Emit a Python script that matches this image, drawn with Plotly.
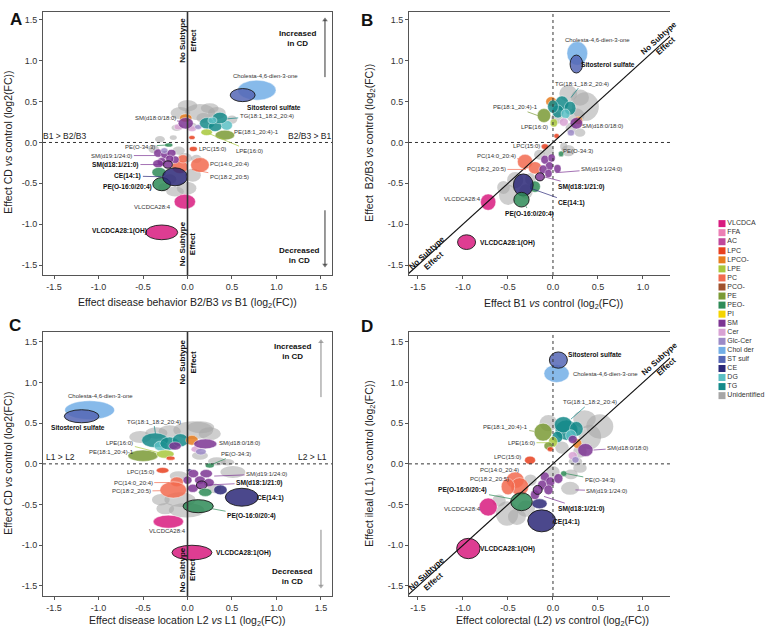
import plotly.graph_objects as go

# ---------------- categories / legend ----------------
CATS = ["VLCDCA", "FFA", "AC", "LPC", "LPCO-", "LPE", "PC", "PCO-", "PE", "PEO-", "PI", "SM",
        "Cer", "Glc-Cer", "Chol der", "ST sulf", "CE", "DG", "TG", "Unidentified"]
COLS = ["#d81b7f", "#ec7fb5", "#c0479b", "#e8401e", "#e87d1e", "#a8c83c", "#f26a4f", "#a0522d",
        "#7a9a35", "#2e8b57", "#f4d400", "#7d3593", "#d8a2d4", "#9b8ac7", "#72aee6", "#5566b5",
        "#2b2878", "#5bbfc4", "#148a8a", "#a6a6a6"]
CMAP = dict(zip(CATS, COLS))

TICK_VALS = [-1.5, -1.0, -0.5, 0.0, 0.5, 1.0, 1.5]
TICK_TEXT = [f"{v:.1f}" for v in TICK_VALS]

# ---------------- Panel A: CD vs control against B2/B3 vs B1 ----------------
A_cls = ["Unidentified"] * 20 + [
    "Chol der", "ST sulf", "LPCO-", "Cer", "Cer", "Glc-Cer", "SM", "TG", "DG", "TG", "TG", "DG",
    "PE", "LPE", "LPC", "LPC", "PEO-", "PC", "PC", "PC",
    "SM", "SM", "SM", "SM", "SM", "SM", "SM", "Glc-Cer", "SM",
    "PEO-", "PEO-", "CE", "VLCDCA", "VLCDCA"]
A_x = [0.14, -0.08, 0.33, 0.18, -0.12, -0.16, -0.31, 0.05, -0.03, 0.06, -0.01, -0.14, -0.10, 0.10, -0.27, 0.50,
       -0.38, 0.00, 0.25, -0.20,
       0.78, 0.62, -0.02, -0.10, 0.05, 0.12, -0.02, 0.22, 0.44, 0.31, 0.365, 0.28,
       0.42, 0.215, 0.05, 0.065, -0.21, -0.085, 0.14, -0.05,
       -0.33, -0.25, -0.18, -0.29, -0.14, -0.20, -0.33, -0.26, -0.22,
       -0.32, -0.29, -0.14, -0.03, -0.29]
A_y = [0.37, 0.36, 0.36, 0.30, 0.18, 0.06, 0.04, 0.20, -0.19, -0.40, -0.56, -0.60, -0.10, -0.20, -0.55, 0.28,
       -0.08, 0.45, 0.42, -0.45,
       0.64, 0.58, 0.30, 0.19, 0.17, 0.19, 0.235, 0.235, 0.21, 0.195, 0.30, 0.27,
       0.09, 0.125, 0.06, -0.08, -0.03, -0.30, -0.275, -0.20,
       -0.13, -0.15, -0.13, -0.235, -0.21, -0.20, -0.26, -0.10, -0.27,
       -0.365, -0.51, -0.42, -0.725, -1.10]
A_w = [0.34, 0.22, 0.20, 0.16, 0.12, 0.08, 0.11, 0.10, 0.16, 0.18, 0.22, 0.20, 0.14, 0.12, 0.12, 0.12,
       0.12, 0.22, 0.20, 0.15,
       0.43, 0.28, 0.14, 0.10, 0.10, 0.08, 0.17, 0.17, 0.13, 0.15, 0.17, 0.10,
       0.22, 0.13, 0.07, 0.09, 0.09, 0.18, 0.21, 0.12,
       0.10, 0.10, 0.10, 0.10, 0.09, 0.09, 0.12, 0.08, 0.10,
       0.16, 0.20, 0.28, 0.24, 0.36]
A_h = [0.20, 0.15, 0.15, 0.12, 0.08, 0.06, 0.08, 0.08, 0.12, 0.16, 0.16, 0.12, 0.10, 0.10, 0.10, 0.10,
       0.10, 0.14, 0.12, 0.12,
       0.245, 0.16, 0.10, 0.07, 0.07, 0.06, 0.14, 0.14, 0.12, 0.12, 0.14, 0.08,
       0.12, 0.08, 0.05, 0.06, 0.05, 0.16, 0.18, 0.10,
       0.10, 0.10, 0.09, 0.10, 0.09, 0.09, 0.10, 0.07, 0.09,
       0.12, 0.16, 0.22, 0.18, 0.18]
A_hl = [0] * 21 + [1] + [0] * 26 + [1, 0, 1, 1, 0, 1]

# ---------------- Panel B: B2/B3 vs control against B1 vs control ----------------
B_cls = ["Unidentified"] * 16 + [
    "Chol der", "ST sulf", "LPCO-", "TG", "TG", "TG", "DG", "TG", "PE", "LPE", "Cer", "LPCO-", "SM",
    "Glc-Cer", "LPC", "LPC", "PEO-", "PC", "PC",
    "SM", "SM", "SM", "SM", "SM", "SM", "SM",
    "PEO-", "CE", "PEO-", "VLCDCA", "VLCDCA"]
B_x = [0.36, 0.17, 0.25, 0.30, 0.17, 0.12, -0.50, -0.42, -0.55, -0.05, 0.20, -0.25, 0.05,
       -0.30, 0.30, -0.15,
       0.27, 0.26, -0.02, 0.10, 0.055, 0.19, 0.14, 0.00, -0.10, 0.01, 0.12, 0.28, 0.26,
       0.20, 0.04, -0.09, 0.09, -0.31, -0.20,
       -0.09, -0.015, -0.04, -0.11, 0.05, -0.05, -0.145,
       -0.20, -0.33, -0.35, -0.72, -0.96]
B_y = [0.44, 0.60, 0.33, 0.12, -0.10, -0.05, -0.64, -0.46, -0.55, -0.10, 0.18, -0.45, 0.30,
       -0.60, 0.55, -0.15,
       1.09, 0.96, 0.50, 0.48, 0.38, 0.42, 0.35, 0.44, 0.33, 0.24, 0.25, 0.27, 0.235,
       0.12, 0.08, -0.05, -0.14, -0.235, -0.31,
       -0.21, -0.19, -0.29, -0.33, -0.32, -0.38, -0.42,
       -0.54, -0.52, -0.70, -0.73, -1.22]
B_w = [0.30, 0.20, 0.20, 0.12, 0.15, 0.08, 0.20, 0.18, 0.14, 0.12, 0.12, 0.12, 0.14,
       0.15, 0.20, 0.12,
       0.23, 0.14, 0.12, 0.15, 0.13, 0.13, 0.10, 0.12, 0.15, 0.08, 0.10, 0.10, 0.14,
       0.08, 0.06, 0.08, 0.06, 0.17, 0.15,
       0.09, 0.08, 0.09, 0.09, 0.08, 0.08, 0.10,
       0.12, 0.22, 0.17, 0.17, 0.20]
B_h = [0.35, 0.20, 0.18, 0.10, 0.14, 0.10, 0.25, 0.20, 0.16, 0.15, 0.12, 0.15, 0.14,
       0.18, 0.20, 0.12,
       0.29, 0.22, 0.12, 0.18, 0.16, 0.17, 0.12, 0.16, 0.17, 0.10, 0.10, 0.10, 0.14,
       0.08, 0.06, 0.07, 0.07, 0.18, 0.15,
       0.11, 0.10, 0.11, 0.11, 0.10, 0.10, 0.10,
       0.14, 0.27, 0.18, 0.20, 0.18]
B_hl = [0] * 17 + [1] + [0] * 23 + [1, 0, 1, 1, 0, 1]

# ---------------- Panel C: CD vs control against L2 vs L1 ----------------
C_cls = ["Unidentified"] * 16 + [
    "Chol der", "ST sulf", "TG", "DG", "TG", "TG", "LPCO-", "Cer", "Glc-Cer", "SM", "SM",
    "PE", "LPE", "LPC", "LPC", "PEO-", "CE", "PC", "PC",
    "SM", "SM", "SM", "SM", "SM", "SM", "SM",
    "PEO-", "CE", "CE", "PEO-", "VLCDCA", "VLCDCA"]
C_x = [0.065, -0.53, 0.25, 0.14, 0.33, 0.51, -0.085, -0.01, -0.30, -0.10, -0.20, 0.30, 0.45,
       -0.35, 0.15, -0.25,
       -1.10, -1.19, -0.365, -0.30, -0.20, -0.08, 0.05, 0.10, 0.15, -0.14, 0.20,
       -0.50, -0.25, -0.19, -0.28, 0.25, 0.02, -0.12, -0.16,
       0.065, 0.21, 0.14, 0.24, 0.06, 0.00, 0.16,
       0.20, 0.37, 0.61, 0.12, -0.215, 0.05]
C_y = [0.415, 0.33, 0.37, 0.10, 0.03, -0.10, -0.44, -0.57, -0.44, -0.15, 0.40, -0.30, 0.02,
       0.38, 0.45, -0.55,
       0.66, 0.585, 0.29, 0.22, 0.25, 0.29, 0.29, 0.18, 0.15, 0.22, 0.245,
       0.10, 0.12, 0.07, -0.08, -0.02, -0.08, -0.22, -0.32,
       -0.12, -0.12, -0.20, -0.23, -0.30, -0.20, -0.26,
       -0.35, -0.32, -0.41, -0.52, -0.71, -1.09]
C_w = [0.45, 0.25, 0.25, 0.18, 0.20, 0.28, 0.35, 0.40, 0.20, 0.20, 0.25, 0.15, 0.15,
       0.25, 0.30, 0.20,
       0.56, 0.39, 0.30, 0.15, 0.22, 0.18, 0.14, 0.12, 0.12, 0.14, 0.26,
       0.34, 0.20, 0.10, 0.14, 0.10, 0.06, 0.15, 0.30,
       0.12, 0.14, 0.12, 0.12, 0.12, 0.10, 0.12,
       0.15, 0.15, 0.37, 0.34, 0.34, 0.45]
C_h = [0.22, 0.15, 0.16, 0.10, 0.10, 0.15, 0.18, 0.18, 0.14, 0.12, 0.15, 0.12, 0.08,
       0.14, 0.15, 0.14,
       0.23, 0.16, 0.18, 0.12, 0.16, 0.16, 0.12, 0.08, 0.08, 0.10, 0.12,
       0.14, 0.10, 0.05, 0.07, 0.06, 0.04, 0.12, 0.20,
       0.10, 0.10, 0.10, 0.10, 0.10, 0.10, 0.10,
       0.10, 0.12, 0.22, 0.16, 0.16, 0.18]
C_hl = [0] * 17 + [1] + [0] * 23 + [1, 0, 0, 1, 1, 0, 1]

# ---------------- Panel D: ileal (L1) vs control against colorectal (L2) vs control ----------------
D_cls = ["Unidentified"] * 16 + [
    "Chol der", "ST sulf", "TG", "TG", "TG", "DG", "TG", "PE", "LPE", "PE", "LPCO-", "Cer",
    "Glc-Cer", "SM", "SM", "LPC", "LPC", "PEO-", "PC", "PC", "PC",
    "SM", "SM", "SM", "SM", "SM", "SM", "SM",
    "CE", "PEO-", "CE", "VLCDCA", "VLCDCA"]
D_x = [0.52, 0.41, -0.05, 0.25, 0.19, 0.20, -0.51, -0.40, -0.60, 0.00, -0.25, 0.10, 0.30,
       0.35, -0.30, 0.30,
       0.04, 0.06, 0.15, 0.115, 0.26, 0.20, 0.05, -0.11, 0.00, -0.05, 0.27, 0.22,
       0.25, 0.22, 0.36, -0.03, -0.255, 0.12, -0.42, -0.37, -0.50,
       -0.09, -0.03, -0.12, -0.05, 0.06, -0.20, -0.17,
       -0.15, -0.35, -0.125, -0.72, -0.94]
D_y = [0.46, 0.33, 0.50, 0.03, -0.30, -0.13, -0.61, -0.65, -0.45, -0.10, -0.20, 0.20, 0.15,
       0.55, -0.55, -0.05,
       1.11, 1.275, 0.415, 0.48, 0.43, 0.35, 0.33, 0.39, 0.27, 0.22, 0.25, 0.10,
       0.05, 0.30, 0.17, 0.18, 0.045, -0.12, -0.20, -0.28, -0.28,
       -0.16, -0.22, -0.26, -0.32, -0.18, -0.38, -0.32,
       -0.49, -0.465, -0.70, -0.53, -1.04]
D_w = [0.30, 0.25, 0.20, 0.15, 0.20, 0.15, 0.25, 0.20, 0.15, 0.15, 0.14, 0.15, 0.15,
       0.25, 0.20, 0.15,
       0.28, 0.20, 0.25, 0.20, 0.15, 0.12, 0.12, 0.20, 0.10, 0.10, 0.10, 0.10,
       0.08, 0.10, 0.17, 0.07, 0.12, 0.07, 0.20, 0.20, 0.15,
       0.10, 0.10, 0.10, 0.10, 0.10, 0.10, 0.10,
       0.17, 0.24, 0.31, 0.20, 0.26]
D_h = [0.30, 0.30, 0.20, 0.10, 0.16, 0.12, 0.30, 0.20, 0.15, 0.15, 0.14, 0.15, 0.15,
       0.22, 0.20, 0.12,
       0.22, 0.20, 0.25, 0.20, 0.18, 0.14, 0.14, 0.22, 0.13, 0.10, 0.12, 0.10,
       0.08, 0.10, 0.16, 0.06, 0.10, 0.07, 0.20, 0.22, 0.20,
       0.12, 0.12, 0.12, 0.12, 0.12, 0.12, 0.11,
       0.12, 0.22, 0.27, 0.22, 0.25]
D_hl = [0] * 17 + [1] + [0] * 25 + [1, 0, 1, 1, 0, 1]

# ---------------- labelled metabolites ----------------
LABELS = ["Cholesta-4,6-dien-3-one", "Sitosterol sulfate", "TG(18:1_18:2_20:4)", "SM(d18:0/18:0)",
          "PE(18:1_20:4)-1", "LPE(16:0)", "LPC(15:0)", "PE(O-34:3)", "SM(d19:1/24:0)",
          "PC(14:0_20:4)", "PC(18:2_20:5)", "SM(d18:1/21:0)", "CE(14:1)", "PE(O-16:0/20:4)",
          "VLCDCA28:4", "VLCDCA28:1(OH)"]
LABEL_CLS = ["Chol der", "ST sulf", "TG", "SM", "PE", "LPE", "LPC", "PEO-", "SM", "PC", "PC",
             "SM", "CE", "PEO-", "VLCDCA", "VLCDCA"]
LABEL_BOLD = [0, 1, 0, 0, 0, 0, 0, 0, 0, 0, 0, 1, 1, 1, 0, 1]
N = None
A_lx = [0.88, 0.97, 0.89, -0.365, 0.77, 0.70, 0.28, -0.53, -0.85, 0.47, 0.47, -0.81, -0.67, -0.67, -0.39, -0.76]
A_ly = [0.81, 0.43, 0.33, 0.30, 0.125, -0.10, -0.08, -0.05, -0.16, -0.26, -0.42, -0.27, -0.41, -0.54, -0.785, -1.08]
A_tx = [N, N, 0.45, -0.09, 0.53, 0.24, N, -0.22, -0.36, N, 0.05, -0.27, -0.28, -0.39, N, N]
A_ty = [N, N, 0.29, 0.26, 0.10, 0.11, N, -0.03, -0.16, N, -0.33, -0.27, -0.42, -0.52, N, N]

B_lx = [0.50, 0.61, 0.32, 0.55, -0.42, -0.20, -0.29, 0.28, 0.54, -0.63, -0.74, 0.32, 0.21, -0.26, -1.01, -0.50]
B_ly = [1.26, 0.95, 0.72, 0.205, 0.43, 0.185, -0.045, -0.10, -0.325, -0.165, -0.33, -0.54, -0.74, -0.87, -0.69, -1.23]
B_tx = [N, N, 0.20, N, -0.17, -0.03, N, N, 0.03, -0.38, -0.30, -0.10, -0.25, -0.30, N, N]
B_ty = [N, N, 0.55, N, 0.33, 0.22, N, N, -0.37, -0.20, -0.33, -0.42, -0.56, -0.78, N, N]

C_lx = [-0.98, -1.23, -0.38, 0.58, -0.85, -0.76, -0.53, 0.55, 0.89, -0.61, -0.63, 0.81, 0.93, 0.72, -0.22, 0.63]
C_ly = [0.83, 0.45, 0.52, 0.26, 0.14, 0.26, -0.10, 0.12, -0.125, -0.23, -0.335, -0.23, -0.415, -0.64, -0.83, -1.09]
C_tx = [N, N, -0.36, N, -0.67, -0.33, N, 0.27, 0.30, -0.20, -0.30, 0.22, N, 0.27, N, N]
C_ty = [N, N, 0.37, N, 0.11, 0.14, N, -0.01, -0.15, -0.23, -0.33, -0.26, N, -0.55, N, N]

D_lx = [0.58, 0.47, 0.41, 0.83, -0.53, -0.35, -0.51, 0.52, 0.60, -0.59, -0.71, 0.32, 0.15, -1.00, -1.00, -0.50]
D_ly = [1.10, 1.34, 0.755, 0.20, 0.455, 0.26, 0.08, -0.20, -0.33, -0.075, -0.19, -0.55, -0.72, -0.32, -0.56, -1.05]
D_tx = [N, N, 0.20, 0.45, -0.21, -0.05, N, 0.15, 0.25, N, N, -0.10, N, -0.46, N, N]
D_ty = [N, N, 0.55, 0.17, 0.40, 0.26, N, -0.12, -0.32, N, N, -0.40, N, -0.43, N, N]

# ---------------- axis geometry ----------------
A_xr, A_yr = [-1.624, 1.624], [-1.622, 1.597]
B_xr, B_yr = [-1.60, 1.30], [-1.622, 1.597]
C_xr, C_yr = [-1.624, 1.624], [-1.623, 1.624]
D_xr, D_yr = [-1.60, 1.30], [-1.623, 1.624]
XDOM_L, XDOM_R = [0.0562, 0.434], [0.5346, 0.8758]
YDOM_T, YDOM_B = [0.5628, 0.9809], [0.0525, 0.4727]

FONT = "Liberation Sans, Arial, sans-serif"
fig = go.Figure()


def rgba(h, a):
    h = h.lstrip("#")
    return f"rgba({int(h[0:2], 16)},{int(h[2:4], 16)},{int(h[4:6], 16)},{a})"


def axis_cfg(dom, rng, anchor, mirror):
    return dict(domain=dom, range=rng, anchor=anchor, tickvals=TICK_VALS, ticktext=TICK_TEXT,
                ticks="outside", ticklen=3, tickwidth=1, tickcolor="#555", showline=True,
                linecolor="#555", linewidth=1, mirror=mirror, showgrid=False, zeroline=False,
                tickfont=dict(size=9, color="#333", family=FONT))


shapes = []
annotations = []


def add_ellipses(xr, yr, cls, xs, ys, ws, hs, hl):
    for c, x, y, w, h, b in zip(cls, xs, ys, ws, hs, hl):
        grey = c == "Unidentified"
        shapes.append(dict(
            type="circle", xref=xr, yref=yr, layer="below",
            x0=x - w / 2, x1=x + w / 2, y0=y - h / 2, y1=y + h / 2,
            fillcolor=rgba(CMAP[c], 0.55 if grey else 0.85),
            line=dict(color="#1a1a1a" if b else ("rgba(0,0,0,0)" if grey else "rgba(255,255,255,0.75)"),
                      width=0.9 if b else 0.6)))


def add_labels(xr, yr, lx, ly, tx, ty):
    for name, c, b, x, y, px, py in zip(LABELS, LABEL_CLS, LABEL_BOLD, lx, ly, tx, ty):
        txt = f"<b>{name}</b>" if b else name
        f = dict(size=6.6 if b else 6, color="#111" if b else "#333", family=FONT)
        if px is None:
            annotations.append(dict(xref=xr, yref=yr, x=x, y=y, text=txt, showarrow=False, font=f))
        else:
            annotations.append(dict(xref=xr, yref=yr, x=px, y=py, ax=x, ay=y, axref=xr, ayref=yr,
                                    text=txt, showarrow=True, arrowhead=0, arrowwidth=0.7,
                                    arrowcolor=CMAP[c], standoff=0, font=f))


def ref_line(xa, ya, xs, ys, dash, width, color):
    fig.add_trace(go.Scatter(x=xs, y=ys, xaxis=xa, yaxis=ya, mode="lines", hoverinfo="skip",
                             line=dict(color=color, width=width, dash=dash), showlegend=False))


panels = [
    ("x", "y", A_cls, A_x, A_y, A_w, A_h, A_hl, A_lx, A_ly, A_tx, A_ty),
    ("x2", "y2", B_cls, B_x, B_y, B_w, B_h, B_hl, B_lx, B_ly, B_tx, B_ty),
    ("x3", "y3", C_cls, C_x, C_y, C_w, C_h, C_hl, C_lx, C_ly, C_tx, C_ty),
    ("x4", "y4", D_cls, D_x, D_y, D_w, D_h, D_hl, D_lx, D_ly, D_tx, D_ty),
]
for xa, ya, cl, xs, ys, ws, hs, hl, lx, ly, tx, ty in panels:
    add_ellipses(xa, ya, cl, xs, ys, ws, hs, hl)
    add_labels(xa, ya, lx, ly, tx, ty)

# reference lines: A & C (subtype effect vs CD effect)
for xa, ya, xr, yr in [("x", "y", A_xr, A_yr), ("x3", "y3", C_xr, C_yr)]:
    ref_line(xa, ya, xr, [0, 0], "dot", 1, "#333")
    ref_line(xa, ya, [0, 0], yr, "solid", 1.6, "#333")
# reference lines: B & D (identity line)
for xa, ya, xr, yr in [("x2", "y2", B_xr, B_yr), ("x4", "y4", D_xr, D_yr)]:
    ref_line(xa, ya, xr, [0, 0], "dot", 1, "#333")
    ref_line(xa, ya, [0, 0], yr, "dot", 1, "#333")
    lo, hi = min(xr[0], yr[0]), max(xr[1], yr[1])
    ref_line(xa, ya, [lo, hi], [lo, hi], "solid", 1.2, "#111")

# "Increased / Decreased in CD" arrows (line + triangle head)
for xa, ya, ax_, y0, y1, col in [("x", "y", 1.545, 0.80, 1.50, "#333"), ("x", "y", 1.545, -0.83, -1.50, "#333"),
                                 ("x3", "y3", 1.50, 0.82, 1.50, "#888"), ("x3", "y3", 1.50, -0.81, -1.50, "#888")]:
    fig.add_trace(go.Scatter(
        x=[ax_, ax_], y=[y0, y1], xaxis=xa, yaxis=ya, mode="lines+markers", hoverinfo="skip",
        line=dict(color=col, width=1),
        marker=dict(symbol=["line-ew", "triangle-up" if y1 > y0 else "triangle-down"],
                    size=[0, 5], color=col, line=dict(width=0)),
        showlegend=False))

# ---------------- legend (own hidden axis) ----------------
fig.add_trace(go.Scatter(
    x=[0.197] * len(CATS), y=list(range(len(CATS))), xaxis="x5", yaxis="y5",
    mode="markers+text", text=CATS, textposition="middle right", cliponaxis=False,
    textfont=dict(size=7, color="#333", family=FONT),
    marker=dict(symbol="square", size=7, color=COLS, line=dict(width=0)),
    hoverinfo="skip", showlegend=False))

# ---------------- annotations: decorations ----------------
bold8 = dict(size=8, color="#111", family=FONT)
reg9 = dict(size=8.5, color="#222", family=FONT)
for xa, ya, yt, yb in [("x", "y", 1.25, -1.24), ("x3", "y3", 1.25, -1.30)]:
    for yy in (yt, yb):
        annotations.append(dict(xref=xa, yref=ya, x=0, y=yy, text="<b>No Subtype<br>Effect</b>",
                                textangle=-90, showarrow=False, font=bold8))
for xa, ya, pts in [("x2", "y2", [(-1.36, -1.40), (1.22, 1.23)]),
                    ("x4", "y4", [(-1.37, -1.39), (1.22, 1.25)])]:
    for px, py in pts:
        annotations.append(dict(xref=xa, yref=ya, x=px, y=py, text="<b>No Subtype<br>Effect</b>",
                                textangle=-42, showarrow=False, font=bold8))

annotations += [
    dict(xref="x", yref="y", x=-1.38, y=0.075, text="B1 > B2/B3", showarrow=False, font=reg9),
    dict(xref="x", yref="y", x=1.38, y=0.075, text="B2/B3 > B1", showarrow=False, font=reg9),
    dict(xref="x3", yref="y3", x=-1.43, y=0.09, text="L1 > L2", showarrow=False, font=reg9),
    dict(xref="x3", yref="y3", x=1.41, y=0.09, text="L2 > L1", showarrow=False, font=reg9),
    dict(xref="x", yref="y", x=1.24, y=1.27, text="<b>Increased<br>in CD</b>", showarrow=False, font=bold8),
    dict(xref="x", yref="y", x=1.26, y=-1.38, text="<b>Decreased<br>in CD</b>", showarrow=False, font=bold8),
    dict(xref="x3", yref="y3", x=1.18, y=1.385, text="<b>Increased<br>in CD</b>", showarrow=False, font=bold8),
    dict(xref="x3", yref="y3", x=1.18, y=-1.387, text="<b>Decreased<br>in CD</b>", showarrow=False, font=bold8),
]

# panel letters
for t, px, py in [("A", 0.010, 0.988), ("B", 0.480, 0.986), ("C", 0.009, 0.483), ("D", 0.480, 0.481)]:
    annotations.append(dict(xref="paper", yref="paper", x=px, y=py, text=f"<b>{t}</b>", showarrow=False,
                            font=dict(size=17, color="#111", family=FONT)))

# axis titles
tf = dict(size=10.5, color="#222", family=FONT)
for txt, px, py, ang in [
    ("Effect disease behavior B2/B3 <i>vs</i> B1 (log<sub>2</sub>(FC))", 0.245, 0.518, 0),
    ("Effect CD <i>vs</i> control (log2(FC))", 0.0105, 0.773, -90),
    ("Effect B1 <i>vs</i> control (log<sub>2</sub>(FC))", 0.723, 0.517, 0),
    ("Effect  B2/B3 <i>vs</i> control (log<sub>2</sub>(FC))", 0.4837, 0.773, -90),
    ("Effect disease location L2 <i>vs</i> L1 (log<sub>2</sub>(FC))", 0.245, 0.012, 0),
    ("Effect CD <i>vs</i> control (log2(FC))", 0.0105, 0.2626, -90),
    ("Effect colorectal (L2) <i>vs</i> control (log<sub>2</sub>(FC))", 0.722, 0.012, 0),
    ("Effect ileal (L1) <i>vs</i> control (log<sub>2</sub>(FC))", 0.4837, 0.2626, -90),
]:
    annotations.append(dict(xref="paper", yref="paper", x=px, y=py, text=txt, textangle=ang,
                            showarrow=False, font=tf, xanchor="center", yanchor="middle"))

fig.update_layout(
    width=765, height=629, margin=dict(l=0, r=0, t=0, b=0),
    paper_bgcolor="white", plot_bgcolor="white", showlegend=False,
    font=dict(family=FONT),
    xaxis=axis_cfg(XDOM_L, A_xr, "y", True), yaxis=axis_cfg(YDOM_T, A_yr, "x", True),
    xaxis2=axis_cfg(XDOM_R, B_xr, "y2", True), yaxis2=axis_cfg(YDOM_T, B_yr, "x2", False),
    xaxis3=axis_cfg(XDOM_L, C_xr, "y3", True), yaxis3=axis_cfg(YDOM_B, C_yr, "x3", True),
    xaxis4=axis_cfg(XDOM_R, D_xr, "y4", True), yaxis4=axis_cfg(YDOM_B, D_yr, "x4", False),
    xaxis5=dict(domain=[0.93, 1.0], range=[0, 1], visible=False, anchor="y5"),
    yaxis5=dict(domain=[0.3638, 0.6517], range=[19.5, -0.5], visible=False, anchor="x5"),
    shapes=shapes, annotations=annotations,
)
fig.write_html("out.html", config={"displayModeBar": False},
               post_script="document.body.style.margin='0';document.body.style.overflow='hidden';")
